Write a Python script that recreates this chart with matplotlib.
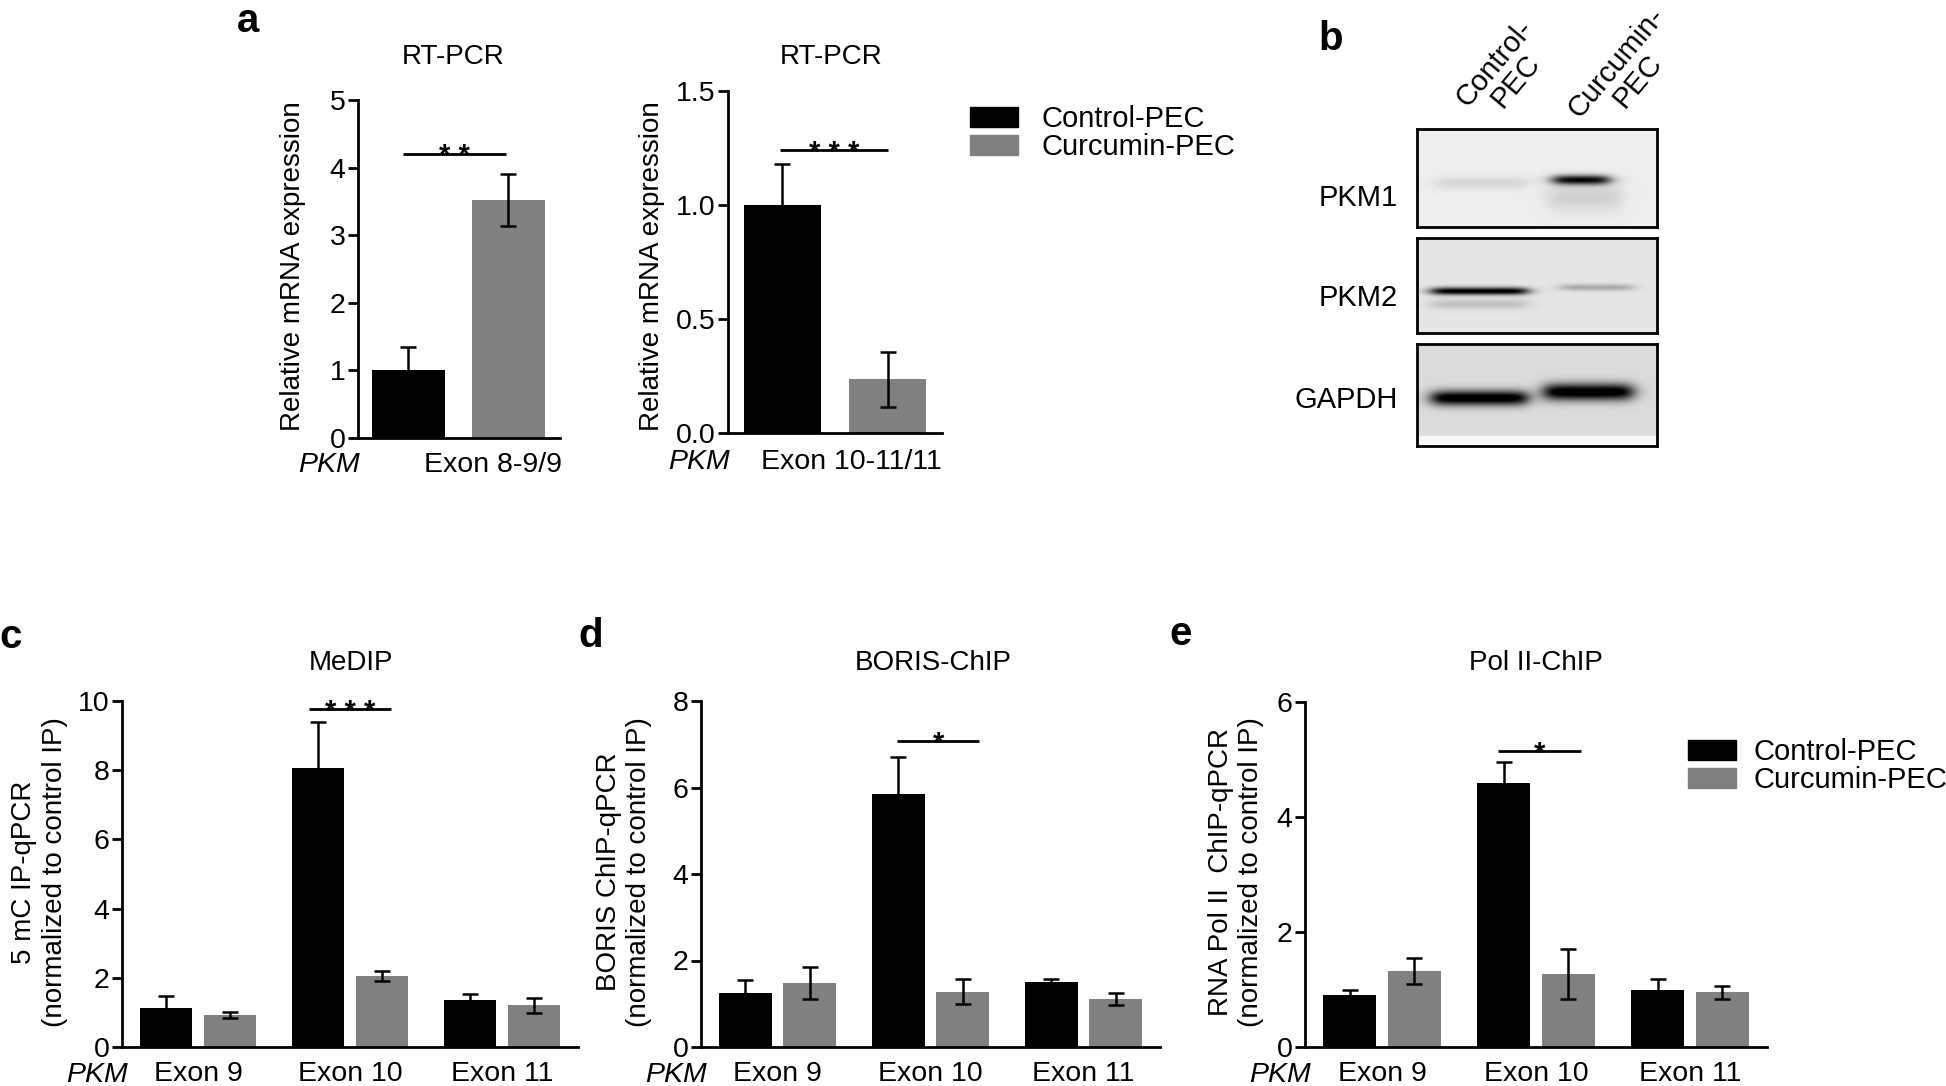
import numpy as np
import matplotlib
matplotlib.use("Agg")
import matplotlib.pyplot as plt
from matplotlib.patches import Patch

plt.rcParams["font.family"] = ["Liberation Sans", "DejaVu Sans"]

W, H = 1946, 1086
fig = plt.figure(figsize=(W / 100, H / 100), dpi=100)

BLACK = "#000000"
GRAY = "#808080"
FS = 20.5

# RT-PCR (panel a)
rt_groups = ["Exon 8-9/9", "Exon 10-11/11"]
rt_ctrl = [1.0, 1.0]
rt_ctrl_err = [0.35, 0.18]
rt_curc = [3.52, 0.235]
rt_curc_err = [0.39, 0.12]
rt_ymax = [5, 1.5]
rt_yticks = [[0, 1, 2, 3, 4, 5], [0.0, 0.5, 1.0, 1.5]]
rt_sig = ["* *", "* * *"]
rt_sig_y = [4.2, 1.24]

# ChIP / MeDIP (panels c-e)
exons = ["Exon 9", "Exon 10", "Exon 11"]
medip_ctrl = [1.14, 8.05, 1.35]
medip_ctrl_err = [0.33, 1.35, 0.17]
medip_curc = [0.92, 2.05, 1.20]
medip_curc_err = [0.08, 0.15, 0.22]
boris_ctrl = [1.25, 5.86, 1.50]
boris_ctrl_err = [0.29, 0.84, 0.08]
boris_curc = [1.48, 1.28, 1.11]
boris_curc_err = [0.38, 0.29, 0.13]
pol_ctrl = [0.90, 4.60, 1.00]
pol_ctrl_err = [0.10, 0.35, 0.18]
pol_curc = [1.32, 1.27, 0.95]
pol_curc_err = [0.22, 0.43, 0.11]

# western blot (panel b): band = (x0, x1, y centre, thickness, darkness)
blot_names = ["PKM1", "PKM2", "GAPDH"]
blot_bg = [0.93, 0.90, 0.86]
blot_bands = [
    [(0.08, 0.46, 0.55, 0.06, 0.09), (0.57, 0.80, 0.52, 0.05, 0.92), (0.55, 0.85, 0.70, 0.13, 0.12)],
    [(0.06, 0.46, 0.56, 0.04, 0.95), (0.06, 0.46, 0.70, 0.05, 0.15), (0.60, 0.90, 0.52, 0.035, 0.25)],
    [(0.06, 0.46, 0.53, 0.075, 0.96), (0.53, 0.90, 0.47, 0.085, 0.96)],
]
lanes = ["Control-\nPEC", "Curcumin-\nPEC"]


def px_axes(left, top, right, bottom):
    return fig.add_axes([left / W, 1 - bottom / H, (right - left) / W, (bottom - top) / H])


def style(ax, ymax, yticks):
    ax.spines[["top", "right"]].set_visible(False)
    for s in ["left", "bottom"]:
        ax.spines[s].set_linewidth(2)
    ax.set_ylim(0, ymax)
    ax.set_yticks(yticks)
    ax.tick_params(axis="y", direction="out", length=7, width=2, labelsize=FS, pad=2)


def sig(ax, x0, x1, y, txt):
    ax.plot([x0, x1], [y, y], color="black", lw=2, solid_capstyle="butt", clip_on=False)
    ax.annotate(txt, xy=((x0 + x1) / 2, y), xytext=(0, -7.5), textcoords="offset points",
                ha="center", va="baseline", fontsize=21, fontweight="bold", annotation_clip=False)


# ---- panel a ----
boxes_a = [(358, 100, 560, 438), (728, 91, 942, 433)]
xlims_a = [(-0.5, 1.52), (-0.515, 1.517)]
lab_x = [0.85, 0.66]
lab_off = [-19.5, -21]
ylab_x = [293, 652]
titles_x = [453, 831]
for i in range(2):
    ax = px_axes(*boxes_a[i])
    style(ax, rt_ymax[i], rt_yticks[i])
    ax.bar([0], [rt_ctrl[i]], width=0.73, color=BLACK)
    ax.bar([1], [rt_curc[i]], width=0.73, color=GRAY)
    ax.errorbar([0, 1], [rt_ctrl[i], rt_curc[i]], yerr=[rt_ctrl_err[i], rt_curc_err[i]],
                fmt="none", ecolor="black", elinewidth=1.8, capsize=6, capthick=1.8, zorder=3)
    ax.set_xlim(*xlims_a[i])
    ax.set_xticks([])
    if i == 1:
        ax.yaxis.set_major_formatter(matplotlib.ticker.FormatStrFormatter("%.1f"))
    sig(ax, -0.02 if i else -0.05, 1.0 if i else 0.98, rt_sig_y[i], rt_sig[i])
    ax.annotate(rt_groups[i], xy=(lab_x[i], 0), xycoords=("data", "axes fraction"),
                xytext=(0, lab_off[i]), textcoords="offset points",
                ha="center", va="center", fontsize=FS)
    ax.annotate("PKM", xy=(0, 0), xycoords="axes fraction", xytext=(1, lab_off[i]),
                textcoords="offset points", ha="right", va="center", fontsize=FS, style="italic")
    fig.text(ylab_x[i] / W, 1 - 266 / H, "Relative mRNA expression", rotation=90,
             ha="center", va="center", fontsize=20)
    fig.text(titles_x[i] / W, 1 - 57 / H, "RT-PCR", ha="center", va="center", fontsize=20)

leg = fig.legend(handles=[Patch(color=BLACK, label="Control-PEC"), Patch(color=GRAY, label="Curcumin-PEC")],
                 loc="upper left", bbox_to_anchor=(970 / W, 1 - 105 / H), frameon=False,
                 fontsize=21, handlelength=1.65, handleheight=0.7, handletextpad=0.8,
                 labelspacing=0.0, borderpad=0, borderaxespad=0)

# ---- panel b ----
blot_boxes = [(129, 227), (238, 333), (344, 446)]
lab_y = [198, 298, 400]
for k in range(3):
    top, bot = blot_boxes[k]
    ax = px_axes(1417, top, 1657, bot)
    hh, ww = 100, 240
    yy, xx = np.mgrid[0:1:hh * 1j, 0:1:ww * 1j]
    img = np.full((hh, ww), blot_bg[k])
    for x0, x1, yc, th, dk in blot_bands[k]:
        px = 1 / (1 + np.exp(-(xx - x0) / 0.02)) / (1 + np.exp(-(x1 - xx) / 0.02))
        py = np.exp(-((yy - yc) / th) ** 2)
        img = img - dk * px * py
    if k == 2:
        img[yy > 0.9] = 0.97
    img = np.clip(img, 0, 1)
    ax.imshow(img, cmap="gray", vmin=0, vmax=1, aspect="auto", interpolation="bilinear")
    ax.set_xticks([])
    ax.set_yticks([])
    for s in ax.spines.values():
        s.set_linewidth(2)
    fig.text(1398 / W, 1 - lab_y[k] / H, blot_names[k], ha="right", va="center", fontsize=21)

lane_xy = [(1505, 72), (1627, 72)]
for k in range(2):
    fig.text(lane_xy[k][0] / W, 1 - lane_xy[k][1] / H, lanes[k], rotation=50, rotation_mode="anchor",
             ha="center", va="center", multialignment="center", fontsize=21, linespacing=1.0)

# ---- panels c-e ----
chip = [
    ("MeDIP", medip_ctrl, medip_ctrl_err, medip_curc, medip_curc_err, 10, [0, 2, 4, 6, 8, 10],
     "5 mC IP-qPCR\n(normalized to control IP)", "* * *", 9.76, (-0.27, 0.27)),
    ("BORIS-ChIP", boris_ctrl, boris_ctrl_err, boris_curc, boris_curc_err, 8, [0, 2, 4, 6, 8],
     "BORIS ChIP-qPCR\n(normalized to control IP)", "*", 7.07, (-0.22, 0.32)),
    ("Pol II-ChIP", pol_ctrl, pol_ctrl_err, pol_curc, pol_curc_err, 6, [0, 2, 4, 6],
     "RNA Pol II  ChIP-qPCR\n(normalized to control IP)", "*", 5.14, (-0.25, 0.29)),
]
boxes_b = [(122, 701, 578, 1047), (701, 701, 1160, 1047), (1305, 702, 1767, 1047)]
title_x = [351, 933, 1536]
ylab_bx = [40, 624, 1236]
x = np.arange(3)
off, bw = 0.21, 0.345
for i, (title, c, ce, q, qe, ymax, yt, ylab, st, sy, sx) in enumerate(chip):
    ax = px_axes(*boxes_b[i])
    style(ax, ymax, yt)
    ax.bar(x - off, c, width=bw, color=BLACK)
    ax.bar(x + off, q, width=bw, color=GRAY)
    ax.errorbar(x - off, c, yerr=ce, fmt="none", ecolor="black", elinewidth=1.8,
                capsize=6, capthick=1.8, zorder=3)
    ax.errorbar(x + off, q, yerr=qe, fmt="none", ecolor="black", elinewidth=1.8,
                capsize=6, capthick=1.8, zorder=3)
    ax.set_xlim(-0.5, 2.5)
    ax.set_xticks(x)
    ax.set_xticklabels(exons)
    ax.tick_params(axis="x", length=0, labelsize=FS, pad=10)
    sig(ax, 1 + sx[0], 1 + sx[1], sy, st)
    ax.annotate("PKM", xy=(0, 0), xycoords="axes fraction", xytext=(4, -20),
                textcoords="offset points", ha="right", va="center", fontsize=FS, style="italic")
    fig.text(title_x[i] / W, 1 - 663 / H, title, ha="center", va="center", fontsize=20)
    fig.text(ylab_bx[i] / W, 1 - 872 / H, ylab, rotation=90, ha="center", va="center",
             multialignment="center", fontsize=20, linespacing=1.25)

fig.legend(handles=[Patch(color=BLACK, label="Control-PEC"), Patch(color=GRAY, label="Curcumin-PEC")],
           loc="upper left", bbox_to_anchor=(1688 / W, 1 - 738 / H), frameon=False,
           fontsize=21, handlelength=1.65, handleheight=0.7, handletextpad=0.6,
           labelspacing=0.0, borderpad=0, borderaxespad=0)

# panel letters
letters = [("a", 248, 32), ("b", 1331, 50), ("c", 11, 648), ("d", 591, 647), ("e", 1181, 645)]
for t, lx, ly in letters:
    fig.text(lx / W, 1 - ly / H, t, ha="center", va="baseline", fontsize=29, fontweight="bold")

fig.savefig("out.png", dpi=100)
